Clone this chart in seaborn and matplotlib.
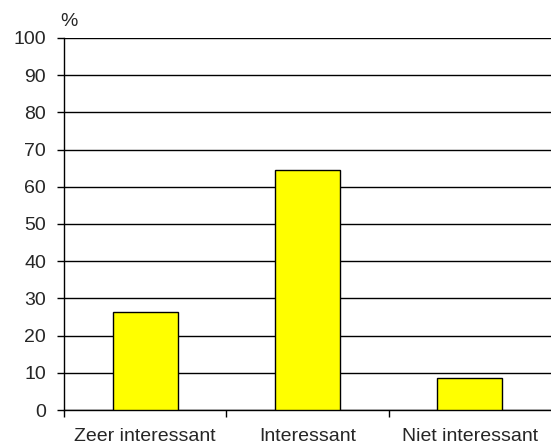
import pandas as pd
import seaborn as sns
import matplotlib.pyplot as plt
from matplotlib.ticker import FixedLocator

# Data
categorieen = ["Zeer interessant", "Interessant", "Niet interessant"]
percentages = [26.3, 64.5, 8.7]

df = pd.DataFrame({"categorie": categorieen, "pct": percentages})

sns.set_style("white")
plt.rcParams["font.family"] = ["Liberation Sans", "DejaVu Sans"]

fig = plt.figure(figsize=(5.51, 4.48), dpi=100)
ax = fig.add_axes([64 / 551, 38 / 448, 1 - 64 / 551, 372 / 448])

sns.barplot(data=df, x="categorie", y="pct", color="#FFFF00", edgecolor="black",
            linewidth=1, width=0.4, saturation=1, ax=ax, zorder=3)

ax.set_ylim(0, 100)
ax.set_xlim(-0.5, 2.5)
ax.set_yticks(range(0, 101, 10))
ax.yaxis.grid(True, color="black", linewidth=1)
ax.set_axisbelow(True)

for side in ["top", "right"]:
    ax.spines[side].set_visible(False)
for side in ["left", "bottom"]:
    ax.spines[side].set_color("black")
    ax.spines[side].set_linewidth(1)

ax.tick_params(axis="y", which="major", left=True, length=5, width=1, color="black",
               labelsize=14, pad=8)
ax.tick_params(axis="x", which="major", length=0, labelsize=14, pad=13)
ax.xaxis.set_minor_locator(FixedLocator([-0.5, 0.5, 1.5]))
ax.tick_params(axis="x", which="minor", bottom=True, length=5, width=1, color="black")

ax.set_xlabel("")
ax.set_ylabel("")
fig.text(60 / 551, 1 - 21 / 448, "%", fontsize=14, ha="left", va="center")

plt.savefig("out.png", dpi=100)
